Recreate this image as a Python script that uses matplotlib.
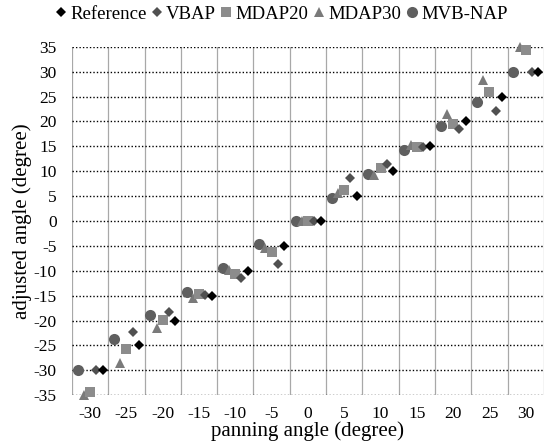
import numpy as np
import matplotlib
matplotlib.use('Agg')
import matplotlib.pyplot as plt

plt.rcParams['font.family'] = ['Liberation Serif', 'DejaVu Serif']
plt.rcParams['axes.unicode_minus'] = False

# panning angles (degree) and adjusted angles per method
angles = [-30, -25, -20, -15, -10, -5, 0, 5, 10, 15, 20, 25, 30]
reference = [-30, -25, -20, -15, -10, -5, 0, 5, 10, 15, 20, 25, 30]
vbap = [-30, -22.3, -18.2, -14.8, -11.4, -8.7, 0, 8.6, 11.4, 14.8, 18.5, 22.2, 30]
mdap20 = [-34.3, -25.8, -19.8, -14.7, -10.7, -6.2, 0, 6.2, 10.7, 14.8, 19.5, 25.9, 34.4]
mdap30 = [-35, -28.5, -21.6, -15.4, -9.8, -5.5, 0, 5.6, 9.3, 15.3, 21.5, 28.4, 35]
mvbnap = [-30, -23.8, -18.9, -14.2, -9.5, -4.7, 0, 4.6, 9.4, 14.3, 19, 23.9, 30]

series = [
    ('Reference', reference, 1.75, 'D', '#000000', 5.5),
    ('VBAP', vbap, 0.85, 'D', '#505050', 5.5),
    ('MDAP20', mdap20, 0.0, 's', '#8c8c8c', 7),
    ('MDAP30', mdap30, -0.85, '^', '#7a7a7a', 7.5),
    ('MVB-NAP', mvbnap, -1.7, 'o', '#5f5f5f', 8),
]

fig = plt.figure(figsize=(5.45, 4.46), dpi=100)
ax = fig.add_axes([0.132, 0.114, 0.866, 0.781])

x = np.array(angles, dtype=float)
for i, (name, vals, off, mk, col, ms) in enumerate(series):
    ax.plot(x + off, vals, linestyle='none', marker=mk, color=col,
            markersize=ms, markeredgewidth=0, label=name, zorder=5 - i,
            clip_on=False)

ax.set_xlim(-32.5, 32.5)
ax.set_ylim(-35, 35)

# vertical grid between the groups, labels at group centers
for g in np.arange(-32.5, 33, 5):
    ax.axvline(g, color='#a8a8a8', lw=0.9, zorder=0)
for v in range(-35, 36, 5):
    ax.axhline(v, color='black', lw=1.0, linestyle=(0, (1, 1.5)), zorder=0)

ax.set_xticks(angles)
ax.set_yticks(range(-35, 36, 5))
ax.tick_params(axis='both', length=0, labelsize=12.5)
ax.tick_params(axis='y', pad=11)
ax.tick_params(axis='x', pad=8)
for s in ax.spines.values():
    s.set_visible(False)

ax.set_xlabel('panning angle (degree)', fontsize=15, labelpad=-1)
ax.set_ylabel('adjusted angle (degree)', fontsize=15, labelpad=1)

fig.legend(loc='upper center', bbox_to_anchor=(0.517, 1.012), ncol=5,
           frameon=False, fontsize=13.5, handlelength=0.5, handletextpad=0.25,
           columnspacing=0.3, borderaxespad=0.2)

fig.savefig('out.png', dpi=100)
